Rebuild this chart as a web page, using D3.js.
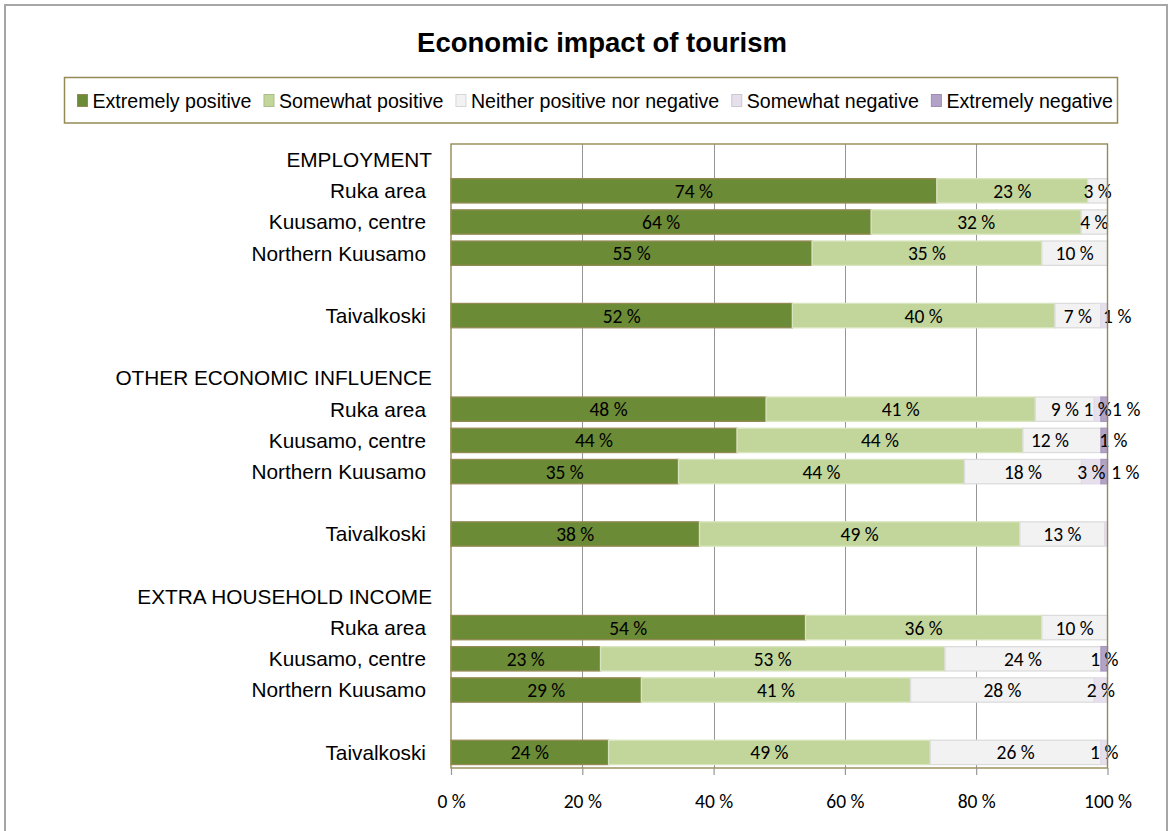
<!DOCTYPE html>
<html>
<head>
<meta charset="utf-8">
<script src="https://cdn.jsdelivr.net/npm/d3@7"></script>
<style>
  html, body { margin: 0; padding: 0; background: #fff; }
  svg { display: block; }
</style>
</head>
<body>
<svg id="chart" width="1171" height="831"></svg>
<script>
// Survey answers, in percent, per area within each question group
const groups = ["EMPLOYMENT", "OTHER ECONOMIC INFLUENCE", "EXTRA HOUSEHOLD INCOME"];
const places = ["Ruka area", "Kuusamo, centre", "Northern Kuusamo", "Taivalkoski"];
const seriesNames = ["Extremely positive", "Somewhat positive", "Neither positive nor negative", "Somewhat negative", "Extremely negative"];

// one value per group × place, in the order of groups then places
const extremelyPositive = [74, 64, 55, 52, 48, 44, 35, 38, 54, 23, 29, 24];
const somewhatPositive  = [23, 32, 35, 40, 41, 44, 44, 49, 36, 53, 41, 49];
const neitherPosNeg     = [3, 4, 10, 7, 9, 12, 18, 13, 10, 24, 28, 26];
const somewhatNegative  = [0, 0, 0, 1, 1, 0, 3, 0.4, 0, 0, 2, 1];
const extremelyNegative = [0, 0, 0, 0, 1, 1, 1, 0, 0, 1, 0, 0];

const axisTicks = [0, 20, 40, 60, 80, 100];

// hand-moved data labels that would otherwise collide: [group, place, series, dx]
const labelOffsets = [
  [0, 3, 3, 13],
  [1, 0, 4, 22],
  [1, 1, 2, -12],
  [1, 1, 4, 9],
  [1, 2, 4, 21]
];

const seriesValues = [extremelyPositive, somewhatPositive, neitherPosNeg, somewhatNegative, extremelyNegative];
const fills   = ["#6C8B36", "#C2D69B", "#F2F2F2", "#E6E0EC", "#B3A2C7"];
const strokes = ["#948A54", "#D8E4BE", "#DCDCDC", "#E2DAEA", "#A898BE"];
const keys = seriesNames.map((_, i) => "s" + i);

// category slots: header, three areas, gap, Taivalkoski, gap
const slots = [];
const rows = [];
groups.forEach((g, gi) => {
  slots.push({ key: "h" + gi, label: g, header: true });
  places.forEach((p, pi) => {
    if (pi === 3) slots.push({ key: "b" + gi + "a", label: "" });
    const key = gi + "-" + pi;
    slots.push({ key, label: p });
    const row = { key, gi, pi };
    seriesValues.forEach((arr, si) => { row["s" + si] = arr[gi * 4 + pi]; });
    rows.push(row);
  });
  if (gi < groups.length - 1) slots.push({ key: "b" + gi + "b", label: "" });
});

const svg = d3.select("#chart");
const W = 1171, H = 831;
const plot = { left: 451, right: 1107.5, top: 144, bottom: 768 };
const numFont = "Carlito, Calibri, Lato, sans-serif";
const textFont = "'Liberation Sans', Arial, sans-serif";

const x = d3.scaleLinear().domain([0, 1]).range([plot.left, plot.right]);
const y = d3.scaleBand().domain(slots.map(s => s.key))
  .range([plot.top, plot.bottom]).paddingInner(0.22).paddingOuter(0.11);

// outer chart frame
svg.append("rect")
  .attr("x", 5).attr("y", 5).attr("width", W - 9).attr("height", H + 20)
  .attr("fill", "#fff").attr("stroke", "#A6A6A6").attr("stroke-width", 2);

// title
svg.append("text")
  .attr("x", 602).attr("y", 52)
  .attr("text-anchor", "middle")
  .style("font-family", textFont)
  .style("font-weight", "bold").style("font-size", "27.5px")
  .text("Economic impact of tourism");

// legend
const legend = svg.append("g");
legend.append("rect")
  .attr("x", 64.5).attr("y", 77.5).attr("width", 1053).attr("height", 45.5)
  .attr("fill", "#fff").attr("stroke", "#948A54").attr("stroke-width", 1.5);
let lx = 77;
seriesNames.forEach((name, i) => {
  legend.append("rect")
    .attr("x", lx + 0.5).attr("y", 94.5).attr("width", 10).attr("height", 12)
    .attr("fill", fills[i]).attr("stroke", i === 0 ? "#948A54" : d3.color(fills[i]).darker(0.35))
    .attr("stroke-width", 1);
  const t = legend.append("text")
    .attr("x", lx + 15.5).attr("y", 107.5)
    .style("font-family", textFont)
    .style("font-size", "19.6px").attr("fill", "#000")
    .text(name);
  lx += 15.5 + t.node().getComputedTextLength() + 12;
});

// gridlines
svg.append("g").selectAll("line")
  .data(axisTicks.slice(1, -1))
  .join("line")
  .attr("x1", d => Math.round(x(d / 100)) + 0.5).attr("x2", d => Math.round(x(d / 100)) + 0.5)
  .attr("y1", plot.top).attr("y2", plot.bottom)
  .attr("stroke", "#969696").attr("stroke-width", 1);

// stacked bars, each row normalised to 100 %
const stacked = d3.stack().keys(keys).offset(d3.stackOffsetExpand)(rows);

const layers = svg.append("g").selectAll("g")
  .data(stacked)
  .join("g")
  .attr("fill", (d, i) => fills[i])
  .attr("stroke", (d, i) => strokes[i]);

layers.selectAll("rect")
  .data(d => d.filter(p => p[1] - p[0] > 0))
  .join("rect")
  .attr("x", p => x(p[0]))
  .attr("width", p => x(p[1]) - x(p[0]))
  .attr("y", p => y(p.data.key))
  .attr("height", y.bandwidth())
  .attr("stroke-width", 1.3);

// data labels
const offsetOf = (gi, pi, si) => {
  const o = labelOffsets.find(a => a[0] === gi && a[1] === pi && a[2] === si);
  return o ? o[3] : 0;
};
const labels = svg.append("g")
  .style("font-family", numFont)
  .style("font-size", "19.5px")
  .attr("fill", "#000")
  .attr("text-anchor", "middle");
stacked.forEach((layer, si) => {
  labels.selectAll(null)
    .data(layer.filter(p => p.data["s" + si] >= 1))
    .join("text")
    .attr("x", p => x((p[0] + p[1]) / 2) + offsetOf(p.data.gi, p.data.pi, si))
    .attr("y", p => y(p.data.key) + y.bandwidth() / 2)
    .attr("dy", "0.36em")
    .text(p => p.data["s" + si] + " %");
});

// plot area border
svg.append("rect")
  .attr("x", plot.left).attr("y", plot.top)
  .attr("width", plot.right - plot.left).attr("height", plot.bottom - plot.top)
  .attr("fill", "none").attr("stroke", "#948A54").attr("stroke-width", 1.4);

// x axis
const xAxis = d3.axisBottom(x)
  .tickValues(axisTicks.map(d => d / 100))
  .tickFormat(d => Math.round(d * 100) + " %")
  .tickSize(7).tickPadding(19);
const ax = svg.append("g").attr("transform", `translate(0,${plot.bottom})`).call(xAxis);
ax.select(".domain").remove();
ax.selectAll(".tick line").attr("stroke", "#969696").attr("stroke-width", 1.2);
ax.selectAll(".tick text")
  .style("font-family", numFont)
  .style("font-size", "19.5px").attr("fill", "#000");

// category labels
svg.append("g").selectAll("text")
  .data(slots.filter(s => s.label))
  .join("text")
  .attr("x", s => s.header ? 432 : 426)
  .attr("y", s => y(s.key) + y.bandwidth() / 2)
  .attr("dy", "0.36em")
  .attr("text-anchor", "end")
  .style("font-family", textFont)
  .style("font-size", "20.8px").attr("fill", "#000")
  .text(s => s.label);
</script>
</body>
</html>
